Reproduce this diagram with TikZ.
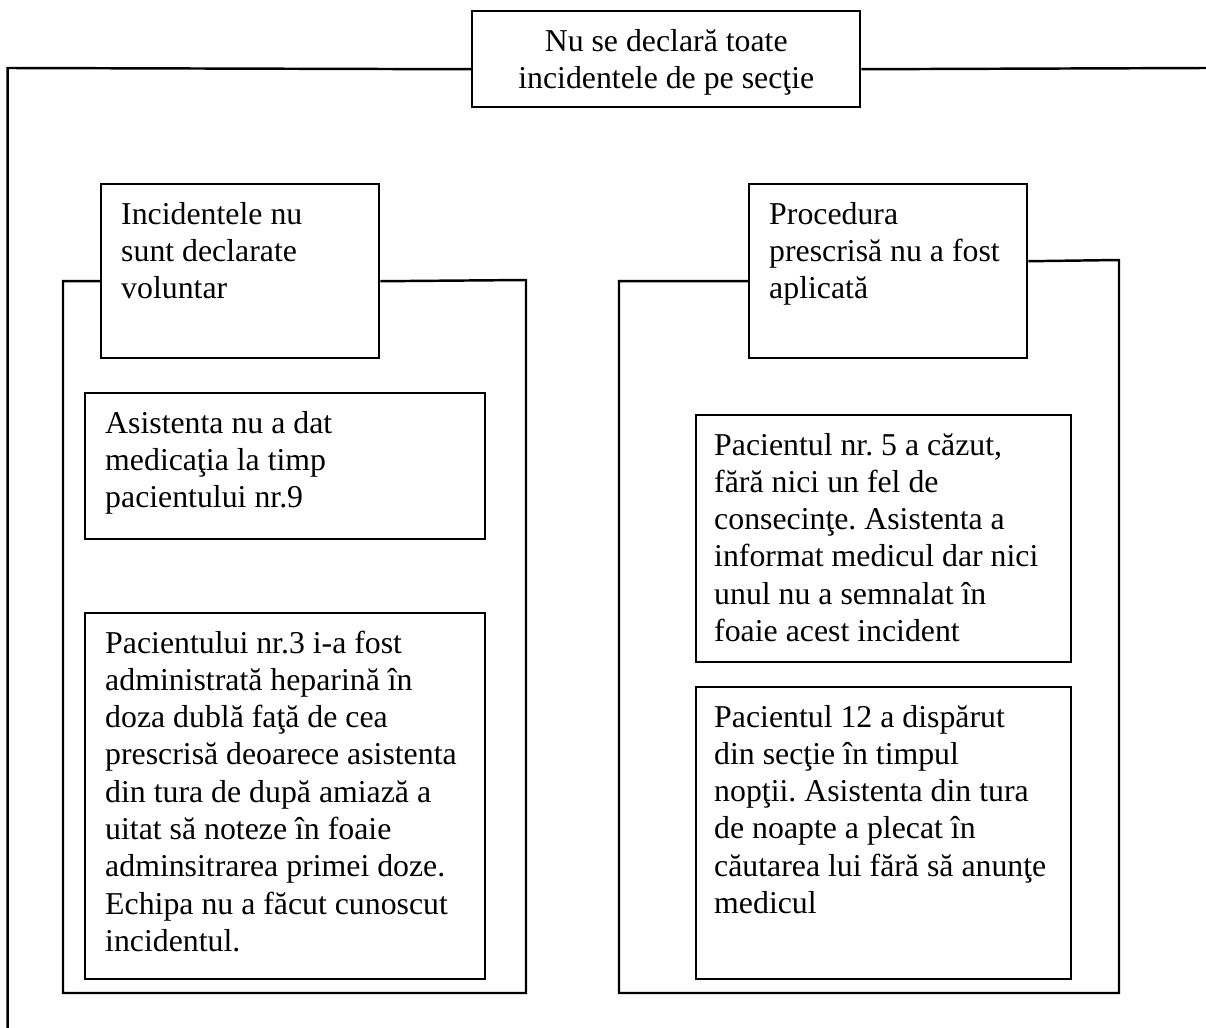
\documentclass[tikz,border=0pt]{standalone}
\usepackage{fontspec}
\setmainfont{Liberation Serif}
\begin{document}
\begin{tikzpicture}[y=-1cm, line width=0.7pt,
  font=\fontsize{9.05pt}{10.6pt}\selectfont\frenchspacing,
  txtbox/.style={draw, anchor=north west, align=flush left, inner xsep=0.2cm, inner ysep=0pt, text height=0.40cm}]
\useasboundingbox (0,0) rectangle (12.06,10.28);
\node[txtbox, align=flush center, text width=3.48cm, text depth=0.56cm] (top) at (4.71,0.10) {Nu se declară toate\\incidentele de pe secţie};
\node[txtbox, text width=2.38cm, text depth=1.34cm] (incid) at (1.00,1.83) {Incidentele nu\\sunt declarate\\voluntar};
\node[txtbox, text width=2.38cm, text depth=1.34cm] (proc) at (7.48,1.83) {Procedura\\prescrisă nu a fost\\aplicată};
\node[txtbox, text width=3.60cm, text depth=1.06cm] (asist) at (0.84,3.92) {Asistenta nu a dat\\medicaţia la timp\\pacientului nr.9};
\node[txtbox, text width=3.60cm, text depth=3.26cm] (hepar) at (0.84,6.12) {Pacientului nr.3 i-a fost\\administrată heparină în\\doza dublă faţă de cea\\prescrisă deoarece asistenta\\din tura de după amiază a\\uitat să noteze în foaie\\adminsitrarea primei doze.\\Echipa nu a făcut cunoscut\\incidentul.};
\node[txtbox, inner xsep=0.18cm, text width=3.39cm, text depth=2.07cm] (cazut) at (6.95,4.14) {Pacientul nr. 5 a căzut,\\fără nici un fel de\\consecinţe. Asistenta a\\informat medicul dar nici\\unul nu a semnalat în\\foaie acest incident};
\node[txtbox, inner xsep=0.18cm, text width=3.39cm, text depth=2.52cm] (disp) at (6.95,6.86) {Pacientul 12 a dispărut\\din secţie în timpul\\nopţii. Asistenta din tura\\de noapte a plecat în\\căutarea lui fără să anunţe\\medicul};
\coordinate (outL) at (0.077,0.68);
\coordinate (outB) at (0.077,10.28);
\coordinate (outR) at (12.06,0.68);
\coordinate (leftB) at (0.63,9.93);
\coordinate (leftR) at (5.26,2.80);
\coordinate (rightB) at (6.19,9.93);
\coordinate (rightR) at (11.19,2.60);
\draw ([yshift=-1mm]top.west) -- (outL) -- (outB);
\draw ([yshift=-1mm]top.east) -- (outR);
\draw ([yshift=-1mm]incid.west) -| (leftB) -| (leftR) -- ([yshift=-1mm]incid.east);
\draw ([yshift=-1mm]proc.west) -| (rightB) -| (rightR) -- ([yshift=1mm]proc.east);
\end{tikzpicture}
\end{document}
